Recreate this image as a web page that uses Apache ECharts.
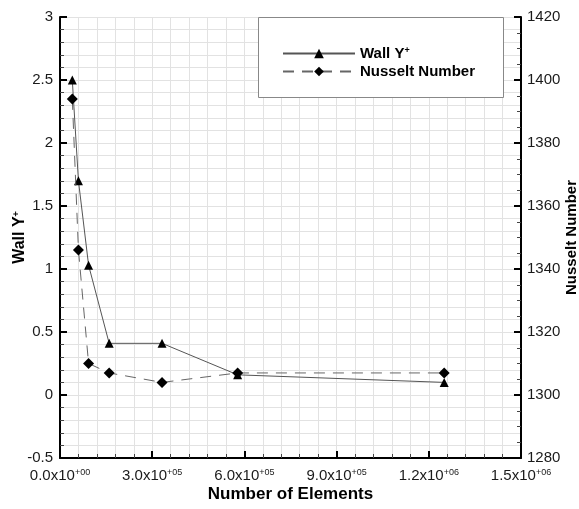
<!DOCTYPE html>
<html>
<head>
<meta charset="utf-8">
<script src="https://cdn.jsdelivr.net/npm/echarts@6/dist/echarts.min.js"></script>
<style>
  html, body { margin: 0; padding: 0; background: #fff; }
  #chart { width: 579px; height: 509px; }
</style>
</head>
<body>
<div id="chart"></div>
<script>
// Mesh sizes (number of elements) for the grid-independence study
const elements = [40000, 60000, 93000, 160000, 332000, 578000, 1250000];
// Wall y+ at each mesh size (left axis)
const wallYPlus = [2.5, 1.7, 1.03, 0.41, 0.41, 0.16, 0.1];
// Nusselt number at each mesh size (right axis)
const nusselt = [1394, 1346, 1310, 1307, 1304, 1307, 1307];

const FONT = 'Liberation Sans, Arial, sans-serif';
const GRID_COLOR = '#e2e2e2';
const LABEL_COLOR = '#1a1a1a';

// Format a number as "m.mx10^+ee" using rich text for the superscript
function sciLabel(v) {
  if (v === 0) return '{b|0.0x10}{s|+00}';
  const e = Math.floor(Math.log10(Math.abs(v)) + 1e-9);
  const m = v / Math.pow(10, e);
  const es = (e >= 0 ? '+' : '-') + String(Math.abs(e)).padStart(2, '0');
  return '{b|' + m.toFixed(1) + 'x10}{s|' + es + '}';
}

const pairs = (ys) => elements.map((x, i) => [x, ys[i]]);

const chart = echarts.init(document.getElementById('chart'), null, { renderer: 'canvas' });

chart.setOption({
  backgroundColor: '#fff',
  animation: false,
  textStyle: { fontFamily: FONT },
  grid: { left: 60, right: 58, top: 17, bottom: 51, containLabel: false, outerBoundsMode: 'none' },
  legend: {
    orient: 'vertical',
    left: 277,
    top: 41,
    z: 10,
    itemWidth: 72,
    itemHeight: 12,
    itemGap: 3,
    selectedMode: false,
    textStyle: {
      fontFamily: FONT,
      fontSize: 15,
      fontWeight: 'bold',
      color: '#000',
      rich: {
        t: { fontSize: 15, fontWeight: 'bold', color: '#000', fontFamily: FONT },
        s: { fontSize: 9, fontWeight: 'bold', color: '#000', fontFamily: FONT, verticalAlign: 'top', padding: [0, 0, 6, 0] }
      }
    },
    formatter: function (name) {
      return name === 'Wall Y+' ? '{t|Wall Y}{s|+}' : '{t|' + name + '}';
    },
    data: ['Wall Y+', 'Nusselt Number']
  },
  graphic: [{
    type: 'rect',
    left: 258, top: 17,
    shape: { width: 245, height: 80 },
    style: { fill: '#fff', stroke: '#888', lineWidth: 1 },
    z: 1
  }],
  xAxis: {
    type: 'value',
    min: 0, max: 1500000, interval: 300000,
    name: 'Number of Elements',
    nameLocation: 'middle',
    nameGap: 28,
    nameMoveOverlap: false,
    nameTextStyle: { fontFamily: FONT, fontSize: 17, fontWeight: 'bold', color: '#000' },
    axisLine: { show: true, onZero: false, lineStyle: { color: '#000', width: 2 } },
    axisTick: { show: true, inside: true, length: 7, lineStyle: { color: '#000', width: 2 } },
    minorTick: { show: true, splitNumber: 5, length: 4, lineStyle: { color: '#444', width: 1 } },
    splitLine: { show: true, lineStyle: { color: GRID_COLOR, width: 1 } },
    minorSplitLine: { show: true, lineStyle: { color: GRID_COLOR, width: 1 } },
    axisLabel: {
      margin: 10,
      formatter: sciLabel,
      rich: {
        b: { fontSize: 15, color: LABEL_COLOR, fontFamily: FONT },
        s: { fontSize: 9, color: LABEL_COLOR, fontFamily: FONT, verticalAlign: 'top', padding: [0, 0, 7, 0] }
      }
    }
  },
  yAxis: [{
    type: 'value',
    min: -0.5, max: 3, interval: 0.5,
    position: 'left',
    name: '{t|Wall Y}{s|+}',
    nameLocation: 'middle',
    nameRotate: 90,
    nameGap: 32,
    nameMoveOverlap: false,
    nameTextStyle: {
      rich: {
        t: { fontSize: 16, fontWeight: 'bold', color: '#000', fontFamily: FONT },
        s: { fontSize: 9, fontWeight: 'bold', color: '#000', fontFamily: FONT, verticalAlign: 'top', padding: [0, 0, 7, 0] }
      }
    },
    axisLine: { show: true, onZero: false, lineStyle: { color: '#000', width: 2 } },
    axisTick: { show: true, inside: true, length: 7, lineStyle: { color: '#000', width: 2 } },
    minorTick: { show: true, splitNumber: 5, length: 4, lineStyle: { color: '#444', width: 1 } },
    splitLine: { show: true, lineStyle: { color: GRID_COLOR, width: 1 } },
    minorSplitLine: { show: true, lineStyle: { color: GRID_COLOR, width: 1 } },
    axisLabel: { fontSize: 15, color: LABEL_COLOR, margin: 7, fontFamily: FONT }
  }, {
    type: 'value',
    min: 1280, max: 1420, interval: 20,
    position: 'right',
    name: 'Nusselt Number',
    nameLocation: 'middle',
    nameRotate: 90,
    nameGap: 43,
    nameMoveOverlap: false,
    nameTextStyle: { fontSize: 15, fontWeight: 'bold', color: '#000', fontFamily: FONT },
    axisLine: { show: true, onZero: false, lineStyle: { color: '#000', width: 2 } },
    axisTick: { show: true, inside: true, length: 7, lineStyle: { color: '#000', width: 2 } },
    minorTick: { show: true, splitNumber: 4, length: 4, lineStyle: { color: '#444', width: 1 } },
    splitLine: { show: false },
    axisLabel: { fontSize: 15, color: LABEL_COLOR, margin: 6, fontFamily: FONT, formatter: (v) => String(v) }
  }],
  series: [{
    name: 'Wall Y+',
    type: 'line',
    yAxisIndex: 0,
    data: pairs(wallYPlus),
    symbol: 'triangle',
    symbolSize: 9,
    itemStyle: { color: '#000' },
    lineStyle: { color: '#555', width: 1 },
    z: 3
  }, {
    name: 'Nusselt Number',
    type: 'line',
    yAxisIndex: 1,
    data: pairs(nusselt),
    symbol: 'diamond',
    symbolSize: 11,
    itemStyle: { color: '#000' },
    lineStyle: { color: '#666', width: 1, type: [11, 8] },
    z: 4
  }]
});
</script>
</body>
</html>
